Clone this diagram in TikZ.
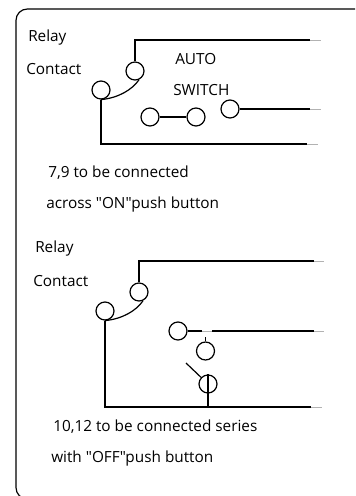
\documentclass[tikz,border=0pt]{standalone}
\usepackage{fontspec}
\newfontfamily\labelfont{Open Sans}
\tikzset{
  contact/.style={draw, circle, line width=0.9pt, minimum size=13.5pt, inner sep=0pt},
  wire/.style={line width=0.9pt},
  stub/.style={line width=0.3pt, gray!60},
  label/.style={anchor=west, inner sep=0pt, font=\labelfont\fontsize{11.5pt}{13pt}\selectfont}
}
\begin{document}
\begin{tikzpicture}[x=0.75pt, y=-0.75pt]
\clip (0,0) rectangle (355,496);
\draw[wire, rounded corners=8.5pt] (360,9) -- (16,9) -- (16,499) -- (360,499);
% upper contact
\node[contact] (c1) at (135,71) {};
\node[contact] (c2) at (101,90) {};
\node[contact] (c3) at (150,117) {};
\node[contact] (c4) at (196,117) {};
\node[contact] (c5) at (230,109) {};
\coordinate (t1) at (135,40);
\coordinate (e1) at (310,40);
\coordinate (f1) at (321,40);
\coordinate (e2) at (310,109);
\coordinate (f2) at (321,109);
\coordinate (b1) at (101,144);
\coordinate (e3) at (307,144);
\coordinate (f3) at (318,144);
\draw[wire] (c1.north) -- (t1) -- (e1);
\draw[stub] (e1) -- (f1);
\draw[wire] (c2.south) .. controls (118,98) and (132,90) .. (c1.-65);
\draw[wire] (c2.south) -- (b1) -- (e3);
\draw[stub] (e3) -- (f3);
\draw[wire] (c3) -- (c4);
\draw[wire] (c5) -- (e2);
\draw[stub] (e2) -- (f2);
\node[label] (relay1) at (28,38) {Relay};
\node[label] (cont1) at (26,69) {Contact};
\node[label] (auto) at (175,59) {AUTO};
\node[label] (switch) at (173,90) {SWITCH};
\node[label] (note1) at (48,173) {7,9 to be connected};
\node[label] (note2) at (46,205) {across "ON"push button};
% lower contact
\node[contact] (c6) at (139,292) {};
\node[contact] (c7) at (105,311) {};
\node[contact] (c8) at (178,331) {};
\node[contact] (c9) at (205.5,351) {};
\node[contact] (c10) at (208,384) {};
\coordinate (t2) at (139,261);
\coordinate (e4) at (314,261);
\coordinate (f4) at (324,261);
\coordinate (g1) at (202,331);
\coordinate (g2) at (212,331);
\coordinate (e5) at (314,331);
\coordinate (f5) at (324,331);
\coordinate (k1) at (205.5,337);
\coordinate (b2) at (105,407);
\coordinate (b3) at (208,407);
\coordinate (e6) at (311,407);
\coordinate (f6) at (322,407);
\coordinate (s1) at (186,363);
\draw[wire] (c6.north) -- (t2) -- (e4);
\draw[stub] (e4) -- (f4);
\draw[wire] (c7.south) .. controls (122,319) and (136,311) .. (c6.-65);
\draw[wire] (c7.south) -- (b2) -- (e6);
\draw[stub] (e6) -- (f6);
\draw[wire] (c8) -- (g1);
\draw[stub] (g1) -- (g2);
\draw[wire] (g2) -- (e5);
\draw[stub] (e5) -- (f5);
\draw[wire] (k1) -- (c9);
\draw[wire] (c10.north) -- (b3);
\draw[wire] (s1) -- (c10);
\node[label] (relay2) at (35,249) {Relay};
\node[label] (cont2) at (33,281) {Contact};
\node[label] (note3) at (53,427) {10,12 to be connected series};
\node[label] (note4) at (51,459) {with "OFF"push button};
\end{tikzpicture}
\end{document}
